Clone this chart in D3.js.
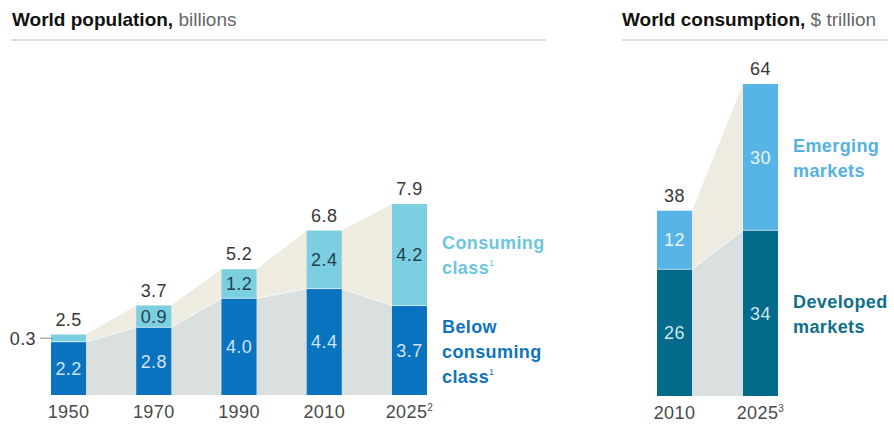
<!DOCTYPE html>
<html>
<head>
<meta charset="utf-8">
<script src="https://cdn.jsdelivr.net/npm/d3@7/dist/d3.min.js"></script>
<style>
  html, body { margin: 0; padding: 0; background: #fff; }
  svg { display: block; font-family: "Liberation Sans", Arial, sans-serif; }
</style>
</head>
<body>
<svg id="chart" width="894" height="428"></svg>
<script>
// World population, billions
const popYears = ["1950", "1970", "1990", "2010", "2025"];
const popYearSup = ["", "", "", "", "2"];
const popBelow = [2.2, 2.8, 4.0, 4.4, 3.7];
const popConsuming = [0.3, 0.9, 1.2, 2.4, 4.2];
const popTotal = [2.5, 3.7, 5.2, 6.8, 7.9];

// World consumption, $ trillion
const conYears = ["2010", "2025"];
const conYearSup = ["", "3"];
const conDeveloped = [26, 34];
const conEmerging = [12, 30];
const conTotal = [38, 64];

const C = {
  below: "#0a73bf",
  consuming: "#7ccfe1",
  developed: "#026a8a",
  emerging: "#57b4e6",
  areaTop: "#eeebe1",
  areaBottom: "#dae0e0",
  total: "#383838",
  axis: "#4a4a4a",
  rule: "#dedede"
};

const svg = d3.select("#chart");
const FS = 18;

function panel(opts) {
  const g = svg.append("g");
  const x = d3.scaleBand().domain(opts.years).range(opts.xRange).paddingInner(opts.pad).paddingOuter(0);
  const y = d3.scaleLinear().domain([0, d3.max(opts.total)]).range([opts.base, opts.top]);
  const bw = x.bandwidth();

  // title + rule
  const t = g.append("text").attr("x", opts.titleX).attr("y", 26)
    .attr("font-size", 19).attr("fill", "#111");
  t.append("tspan").attr("font-weight", "bold").text(opts.title);
  t.append("tspan").attr("fill", "#666").text(opts.unit);
  g.append("line").attr("x1", opts.ruleX[0]).attr("x2", opts.ruleX[1])
    .attr("y1", 40).attr("y2", 40).attr("stroke", C.rule).attr("stroke-width", 2);

  // connecting bands between bars
  const pts = [];
  opts.years.forEach((yr, i) => {
    const d = { lo: opts.lower[i], tot: opts.total[i] };
    pts.push(Object.assign({ x: x(yr) }, d));
    pts.push(Object.assign({ x: x(yr) + bw }, d));
  });
  const areaTop = d3.area().x(d => d.x).y0(d => y(d.lo)).y1(d => y(d.tot));
  const areaBot = d3.area().x(d => d.x).y0(y(0)).y1(d => y(d.lo));
  g.append("path").attr("d", areaTop(pts)).attr("fill", C.areaTop);
  g.append("path").attr("d", areaBot(pts)).attr("fill", C.areaBottom);
  g.append("path").attr("d", d3.line().x(d => d.x).y(d => y(d.lo))(pts))
    .attr("fill", "none").attr("stroke", "#fff").attr("stroke-width", 1).attr("opacity", 0.7);

  // stacked bars
  opts.years.forEach((yr, i) => {
    const lo = opts.lower[i], up = opts.upper[i];
    g.append("rect").attr("x", x(yr)).attr("width", bw)
      .attr("y", y(lo)).attr("height", y(0) - y(lo)).attr("fill", opts.lowColor);
    g.append("rect").attr("x", x(yr)).attr("width", bw)
      .attr("y", y(lo + up)).attr("height", y(lo) - y(lo + up)).attr("fill", opts.upColor);
    g.append("line").attr("x1", x(yr)).attr("x2", x(yr) + bw)
      .attr("y1", y(lo)).attr("y2", y(lo)).attr("stroke", "#fff").attr("stroke-width", 1).attr("opacity", 0.6);

    const cx = x(yr) + bw / 2;
    // lower value
    g.append("text").attr("x", cx).attr("y", (y(0) + y(lo)) / 2).attr("dy", "0.36em")
      .attr("text-anchor", "middle").attr("font-size", FS).attr("letter-spacing", 0.4)
      .attr("fill", opts.lowText).text(opts.fmt(lo));
    // upper value (inside, or beside for a thin segment)
    if (y(lo) - y(lo + up) > 16) {
      g.append("text").attr("x", cx).attr("y", (y(lo) + y(lo + up)) / 2).attr("dy", "0.36em")
        .attr("text-anchor", "middle").attr("font-size", FS).attr("letter-spacing", 0.4)
        .attr("fill", opts.upText).text(opts.fmt(up));
    } else {
      const my = (y(lo) + y(lo + up)) / 2;
      g.append("line").attr("x1", x(yr) - 11).attr("x2", x(yr) + 2)
        .attr("y1", my).attr("y2", my).attr("stroke", "#888").attr("stroke-width", 1);
      g.append("text").attr("x", x(yr) - 15).attr("y", my).attr("dy", "0.36em")
        .attr("text-anchor", "end").attr("font-size", FS).attr("letter-spacing", 0.4)
        .attr("fill", C.total).text(opts.fmt(up));
    }
    // total
    g.append("text").attr("x", cx).attr("y", y(opts.total[i]) - 9)
      .attr("text-anchor", "middle").attr("font-size", FS).attr("letter-spacing", 0.4)
      .attr("fill", C.total).text(opts.fmt(opts.total[i]));
    // year label
    const yl = g.append("text").attr("x", cx).attr("y", opts.base + 23)
      .attr("text-anchor", "middle").attr("font-size", FS).attr("letter-spacing", 0.4)
      .attr("fill", C.axis);
    yl.append("tspan").text(yr);
    if (opts.sup[i]) {
      yl.append("tspan").attr("font-size", 10).attr("dy", -7).text(opts.sup[i]);
    }
  });

  // series labels
  opts.legend.forEach(l => {
    const tx = g.append("text").attr("x", l.x).attr("font-size", FS).attr("letter-spacing", 0.4)
      .attr("font-weight", "bold").attr("fill", l.color);
    l.lines.forEach((ln, k) => {
      tx.append("tspan").attr("x", l.x).attr("y", l.y + k * 25).text(ln.text);
      if (ln.sup) {
        tx.append("tspan").attr("font-size", 9).attr("font-weight", "normal").attr("dy", -8).text(ln.sup);
      }
    });
  });
}

panel({
  title: "World population,", unit: " billions", titleX: 12, ruleX: [11, 546],
  years: popYears, sup: popYearSup, lower: popBelow, upper: popConsuming, total: popTotal,
  xRange: [51, 427], pad: 0.589, base: 395, top: 204,
  lowColor: C.below, upColor: C.consuming, lowText: "#cfe4f4", upText: "#22414c",
  fmt: d3.format(".1f"),
  legend: [
    { x: 442, y: 249, color: "#6cc6dc", lines: [{ text: "Consuming" }, { text: "class", sup: "1" }] },
    { x: 442, y: 333, color: "#0e74c0", lines: [{ text: "Below" }, { text: "consuming" }, { text: "class", sup: "1" }] }
  ]
});

panel({
  title: "World consumption,", unit: " $ trillion", titleX: 622, ruleX: [622, 888],
  years: conYears, sup: conYearSup, lower: conDeveloped, upper: conEmerging, total: conTotal,
  xRange: [657, 778], pad: 0.593, base: 396, top: 84,
  lowColor: C.developed, upColor: C.emerging, lowText: "#cfe6ee", upText: "#e6f4fc",
  fmt: d3.format("d"),
  legend: [
    { x: 793, y: 152, color: "#55b1e0", lines: [{ text: "Emerging" }, { text: "markets" }] },
    { x: 793, y: 308, color: "#0f6f8c", lines: [{ text: "Developed" }, { text: "markets" }] }
  ]
});
</script>
</body>
</html>
